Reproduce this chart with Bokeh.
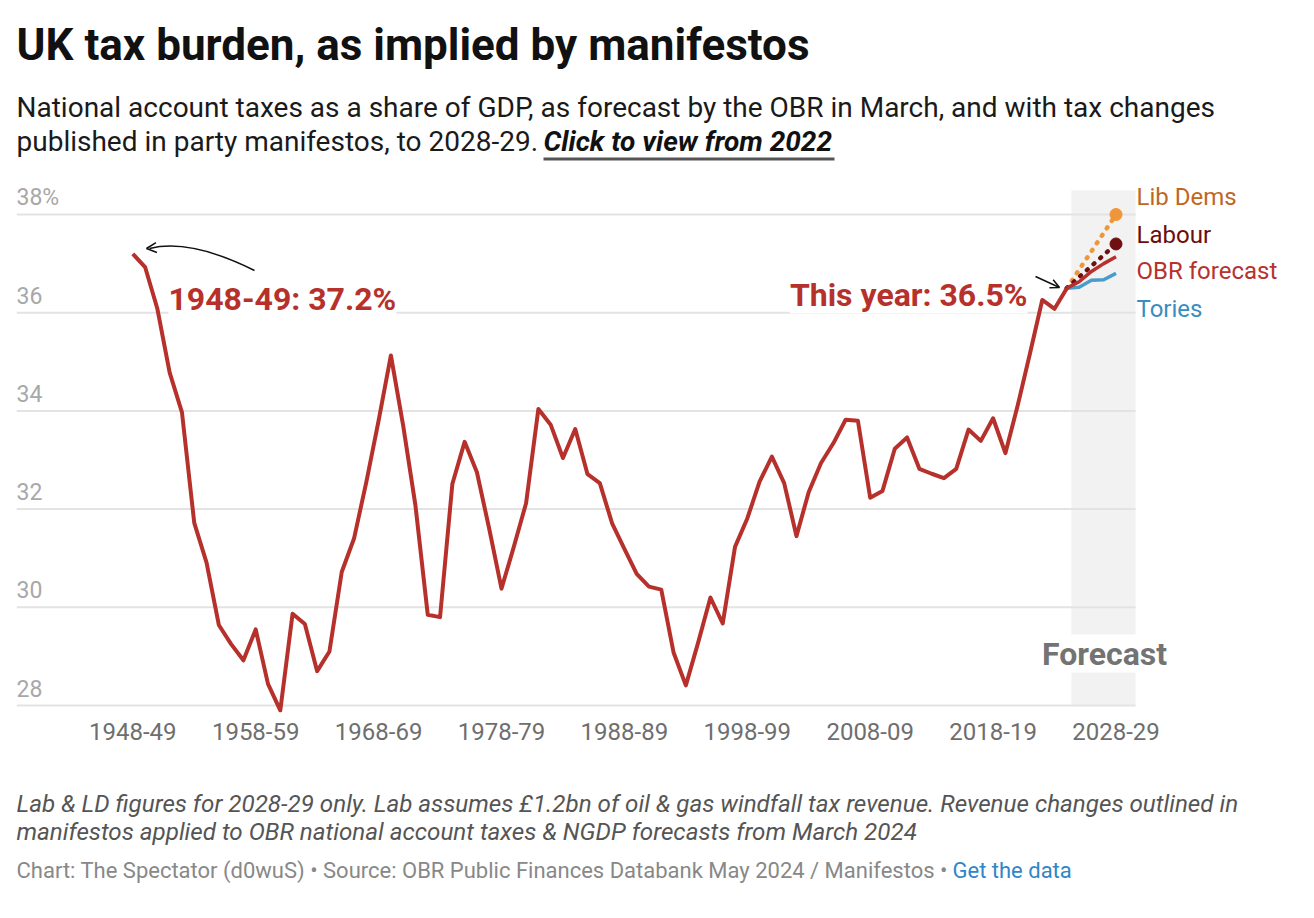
from bokeh.plotting import figure
from bokeh.layouts import column
from bokeh.models import FixedTicker, Label, Arrow, OpenHead, ColumnDataSource, Range1d
from bokeh.embed import file_html
from bokeh.resources import INLINE
from bokeh.core.properties import value

# ---------------- data ----------------
years = list(range(1948, 2025))
tax_share = [
    37.20, 36.93, 36.08, 34.78, 33.97, 31.72, 30.91, 29.64, 29.25, 28.92,
    29.55, 28.44, 27.90, 29.87, 29.66, 28.70, 29.10, 30.72, 31.40, 32.55,
    33.80, 35.13, 33.70, 32.07, 29.85, 29.80, 32.51, 33.37, 32.75, 31.60,
    30.38, 31.23, 32.12, 34.04, 33.72, 33.04, 33.63, 32.71, 32.53, 31.71,
    31.19, 30.68, 30.42, 30.36, 29.08, 28.41, 29.28, 30.20, 29.67, 31.23,
    31.81, 32.56, 33.07, 32.53, 31.45, 32.35, 32.94, 33.34, 33.82, 33.80,
    32.23, 32.37, 33.23, 33.46, 32.82, 32.72, 32.63, 32.82, 33.62, 33.39,
    33.85, 33.14, 34.11, 35.17, 36.26, 36.08, 36.50,
]
forecast_years = [2024, 2025, 2026, 2027, 2028]
obr_forecast = [36.50, 36.63, 36.84, 37.00, 37.14]
tories = [36.50, 36.52, 36.66, 36.67, 36.80]
manifesto_years = [2024, 2028]
labour = [36.50, 37.40]
lib_dems = [36.50, 38.00]
y_ticks = [28, 30, 32, 34, 36, 38]
y_tick_labels = ["28", "30", "32", "34", "36", "38%"]
x_ticks = [1948, 1958, 1968, 1978, 1988, 1998, 2008, 2018, 2028]
x_tick_labels = ["1948-49", "1958-59", "1968-69", "1978-79", "1988-89",
                 "1998-99", "2008-09", "2018-19", "2028-29"]
forecast_start = 2024.37

# ---------------- geometry ----------------
W = 1298
HEAD_H, MAIN_H, FOOT_H = 180, 580, 140
PXX = 12.29   # px per year
PXY = 49.1    # px per percentage point
FRAME_LEFT = 16
FRAME_TOP = HEAD_H          # page y of main frame top
FRAME_H = 532
X0 = 1948 - (132.3 - FRAME_LEFT) / PXX
X1 = X0 + (W - FRAME_LEFT) / PXX
Y1 = 38 + (214 - FRAME_TOP) / PXY
Y0 = Y1 - FRAME_H / PXY


def xd(px):
    return X0 + (px - FRAME_LEFT) / PXX


def yd(py):
    return Y1 - (py - FRAME_TOP) / PXY


RED = "#b7312c"
ORANGE = "#f0963a"
DARK = "#6e1010"
BLUE = "#4a9dcb"
FONT = "Roboto"


def text_panel(height):
    f = figure(width=W, height=height, x_range=Range1d(FRAME_LEFT, W),
               y_range=Range1d(height, 0), output_backend="svg",
               toolbar_location=None, title=None,
               x_axis_type=None, y_axis_type=None,
               min_border_left=FRAME_LEFT, min_border_right=0,
               min_border_top=0, min_border_bottom=0)
    f.outline_line_color = None
    f.background_fill_color = "white"
    f.border_fill_color = "white"
    return f


def add_label(fig, text, x, y, size, color, style="normal", align="left", bg=None):
    l = Label(x=x, y=y, text=text, text_font=FONT,
              text_font_size=f"{size}px", text_color=color,
              text_font_style=style, text_align=align,
              text_baseline="middle")
    if bg:
        l.background_fill_color = bg
    fig.add_layout(l)
    return l


# ---------------- header ----------------
head = text_panel(HEAD_H)
add_label(head, "UK tax burden, as implied by manifestos", 16, 44, 44, "#111111", "bold")
add_label(head, "National account taxes as a share of GDP, as forecast by the OBR in March, and with tax changes",
          16, 107, 28, "#1a1a1a")
add_label(head, "published in party manifestos, to 2028-29.", 16, 141, 28, "#1a1a1a")
add_label(head, "Click to view from 2022", 543, 141, 28, "#111111", "bold italic")
head.segment(x0=[543], y0=[158.5], x1=[834], y1=[158.5], line_color="#555555", line_width=3)

# ---------------- main chart ----------------
p = figure(width=W, height=MAIN_H, x_range=(X0, X1), y_range=(Y0, Y1),
           output_backend="svg", toolbar_location=None, title=None,
           min_border_left=FRAME_LEFT, min_border_right=0,
           min_border_top=0, min_border_bottom=MAIN_H - FRAME_H)
p.outline_line_color = None
p.background_fill_color = "white"
p.border_fill_color = "white"

p.yaxis.visible = False
p.xgrid.visible = False
p.ygrid.visible = False

p.xaxis.ticker = FixedTicker(ticks=x_ticks)
p.xaxis.major_label_overrides = dict(zip(x_ticks, x_tick_labels))
p.xaxis.axis_line_color = None
p.xaxis.major_tick_line_color = None
p.xaxis.minor_tick_line_color = None
p.xaxis.major_label_text_font = FONT
p.xaxis.major_label_text_font_size = "24px"
p.xaxis.major_label_text_color = "#6e6e6e"
p.xaxis.major_label_standoff = 4

# forecast band
p.quad(left=[forecast_start], right=[xd(1135)], bottom=[yd(705)], top=[yd(190)],
       fill_color="#f2f2f2", line_color=None)

# horizontal grid lines at the y ticks (ending at the forecast band)
p.segment(x0=[X0] * len(y_ticks), x1=[xd(1135)] * len(y_ticks),
          y0=y_ticks, y1=y_ticks, line_color="#e3e3e3", line_width=2)

# y tick labels drawn inside the frame, above their grid lines
ysrc = ColumnDataSource(dict(x=[xd(16)] * len(y_ticks),
                             y=[t + 17.5 / PXY for t in y_ticks],
                             text=y_tick_labels))
p.text(x="x", y="y", text="text", source=ysrc, text_font=value(FONT),
       text_font_size="23px", text_color="#a8a8a8", text_baseline="middle")

# series
p.line(manifesto_years, lib_dems, line_color=ORANGE, line_width=4.5,
       line_dash="1 8", line_cap="round")
p.line(manifesto_years, labour, line_color=DARK, line_width=4.5,
       line_dash="1 8", line_cap="round")
p.scatter(manifesto_years[-1:], lib_dems[-1:], size=12, color=ORANGE)
p.scatter(manifesto_years[-1:], labour[-1:], size=12, color=DARK)
p.line(forecast_years, tories, line_color=BLUE, line_width=3.5, line_join="round")
p.line(forecast_years, obr_forecast, line_color=RED, line_width=3.5, line_join="round")
p.line(years, tax_share, line_color=RED, line_width=4, line_join="round")

# annotations
add_label(p, "1948-49: 37.2%", xd(168), yd(298), 32, RED, "bold", bg="white")
add_label(p, "This year: 36.5%", xd(1027), yd(294), 32, RED, "bold", align="right", bg="white")
add_label(p, "Forecast", xd(1104), yd(653), 32, "#737373", "bold", align="center", bg="white")

p.quadratic(x0=[xd(254)], y0=[yd(270)], x1=[xd(149)], y1=[yd(248)],
            cx=[xd(190)], cy=[yd(238)], line_color="#111111", line_width=1.5)
p.add_layout(Arrow(end=OpenHead(size=10, line_width=1.5, line_color="#111111"),
                   x_start=xd(156), y_start=yd(247), x_end=xd(146), y_end=yd(248),
                   line_alpha=0))
p.add_layout(Arrow(end=OpenHead(size=9, line_width=1.5, line_color="#111111"),
                   x_start=xd(1035), y_start=yd(276), x_end=xd(1059), y_end=yd(287),
                   line_color="#111111", line_width=1.5))

# series labels
add_label(p, "Lib Dems", xd(1136), yd(196), 24, "#c0671f")
add_label(p, "Labour", xd(1136), yd(234), 24, "#6b0d0d")
add_label(p, "OBR forecast", xd(1136), yd(270), 24, "#b8312f")
add_label(p, "Tories", xd(1136), yd(308), 24, "#3a8dc0")

# ---------------- footer ----------------
FOOT_TOP = HEAD_H + MAIN_H
foot = text_panel(FOOT_H)
add_label(foot, "Lab & LD figures for 2028-29 only. Lab assumes £1.2bn of oil & gas windfall tax revenue. Revenue changes outlined in",
          16, 803 - FOOT_TOP, 24.2, "#555555", "italic")
add_label(foot, "manifestos applied to OBR national account taxes & NGDP forecasts from March 2024",
          16, 831 - FOOT_TOP, 24.2, "#555555", "italic")
add_label(foot, "Chart: The Spectator (d0wuS) • Source: OBR Public Finances Databank May 2024 / Manifestos •",
          16, 870 - FOOT_TOP, 22, "#888888")
add_label(foot, "Get the data", 952, 870 - FOOT_TOP, 22, "#2f86c8")

layout = column(head, p, foot, spacing=0)
open("out.html", "w").write(file_html(layout, INLINE))
